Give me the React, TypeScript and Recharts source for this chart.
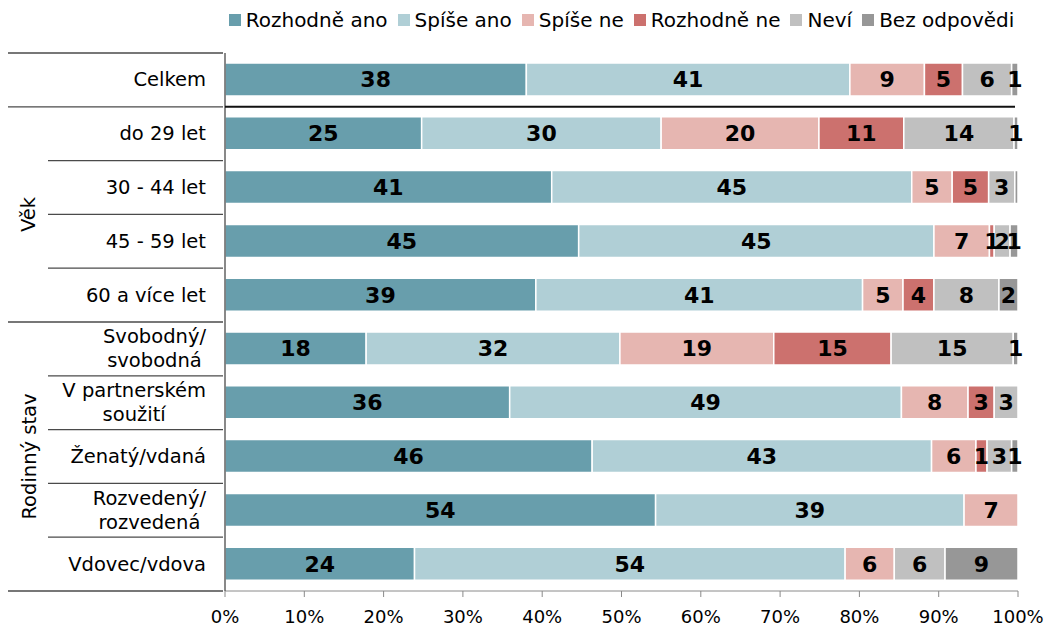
import React from 'react';
import { BarChart, Bar, XAxis, YAxis, Legend, LabelList } from 'recharts';

const categories = [
  'Celkem',
  'do 29 let',
  '30 - 44 let',
  '45 - 59 let',
  '60 a více let',
  'Svobodný/\nsvobodná',
  'V partnerském\nsoužití',
  'Ženatý/vdaná',
  'Rozvedený/\nrozvedená',
  'Vdovec/vdova',
];

const rozhodneAno = [38.0, 24.8, 41.2, 44.6, 39.2, 17.8, 35.9, 46.3, 54.3, 23.9];
const spiseAno = [40.8, 30.2, 45.4, 44.8, 41.2, 32.0, 49.4, 42.8, 38.9, 54.3];
const spiseNe = [9.4, 19.9, 5.1, 7.0, 5.1, 19.4, 8.4, 5.6, 6.8, 6.2];
const rozhodneNe = [4.8, 10.7, 4.6, 0.6, 3.9, 14.8, 3.3, 1.4, 0, 0];
const nevi = [6.2, 13.9, 3.3, 2.0, 8.2, 15.4, 3.0, 3.1, 0, 6.4];
const bezOdpovedi = [0.8, 0.5, 0.4, 1.0, 2.4, 0.6, 0, 0.8, 0, 9.2];

const seriesKeys = ['rozhodneAno', 'spiseAno', 'spiseNe', 'rozhodneNe', 'nevi', 'bezOdpovedi'];
const seriesNames = ['Rozhodně ano', 'Spíše ano', 'Spíše ne', 'Rozhodně ne', 'Neví', 'Bez odpovědi'];
const seriesColors = ['#689EAC', '#B0CFD6', '#E6B6B1', '#CC716E', '#C0C0C0', '#979797'];
const seriesValues = [rozhodneAno, spiseAno, spiseNe, rozhodneNe, nevi, bezOdpovedi];

const xTicks = [0, 10, 20, 30, 40, 50, 60, 70, 80, 90, 100];

const groups = [
  { label: '', start: 0, end: 0 },
  { label: 'Věk', start: 1, end: 4 },
  { label: 'Rodinný stav', start: 5, end: 9 },
];

const data = categories.map((name, i) => {
  const row: Record<string, any> = { name };
  seriesKeys.forEach((k, s) => {
    row[k] = seriesValues[s][i];
  });
  return row;
});

const W = 1046;
const H = 627;
const M = { top: 53, right: 28, bottom: 6, left: 0 };
const Y_W = 225;
const X_H = 30;
const PLOT_H = H - M.top - M.bottom - X_H;
const BAND = PLOT_H / categories.length;
const PLOT_RIGHT = W - M.right;
const FONT = '"DejaVu Sans", Verdana, sans-serif';
const CAT_FONT_SIZE = 19.5;

function measure(s: string): number {
  try {
    const ctx = document.createElement('canvas').getContext('2d');
    if (ctx) {
      ctx.font = `${CAT_FONT_SIZE}px "DejaVu Sans"`;
      return ctx.measureText(s).width;
    }
  } catch (e) {}
  return s.length * CAT_FONT_SIZE * 0.6;
}

function CatTick(props: any) {
  const { y, payload } = props;
  const label = String(payload.value);
  const i = categories.indexOf(label);
  const g = groups.find((gr) => i >= gr.start && i <= gr.end) || groups[0];
  const lines = label.split('\n');
  const right = Y_W - 19;
  const els: any[] = [];
  if (lines.length === 1) {
    els.push(
      <text key="t" x={right} y={y} textAnchor="end" dominantBaseline="central" fontSize={CAT_FONT_SIZE} fill="#000">
        {label}
      </text>
    );
  } else {
    const maxW = Math.max(...lines.map(measure));
    const cx = right - maxW / 2;
    lines.forEach((l, k) => {
      els.push(
        <text
          key={'t' + k}
          x={cx}
          y={y + (k - (lines.length - 1) / 2) * 24}
          textAnchor="middle"
          dominantBaseline="central"
          fontSize={CAT_FONT_SIZE}
          fill="#000"
        >
          {l}
        </text>
      );
    });
  }
  const bottom = y + BAND / 2;
  const start = i === g.end ? 8 : 48;
  els.push(<line key="lb" x1={start} x2={Y_W - 2} y1={bottom} y2={bottom} stroke="#4a4a4a" strokeWidth={1.3} />);
  if (i === 0) {
    const top = y - BAND / 2;
    els.push(<line key="lt" x1={8} x2={Y_W - 2} y1={top} y2={top} stroke="#4a4a4a" strokeWidth={1.3} />);
    els.push(<line key="lc" x1={Y_W} x2={PLOT_RIGHT - 3} y1={bottom} y2={bottom} stroke="#111" strokeWidth={2} />);
  }
  if (i === g.start && g.label) {
    const gy = y + (BAND * (g.end - g.start)) / 2;
    els.push(
      <text
        key="g"
        x={29}
        y={gy}
        textAnchor="middle"
        dominantBaseline="central"
        fontSize={CAT_FONT_SIZE}
        fill="#000"
        transform={`rotate(-90, 29, ${gy})`}
      >
        {g.label}
      </text>
    );
  }
  return <g>{els}</g>;
}

const fmt = (v: any) => {
  const r = Math.round(Number(v));
  return r >= 1 ? String(r) : '';
};

function LegendContent() {
  return (
    <div style={{ display: 'flex', justifyContent: 'center', fontSize: 20, color: '#000', lineHeight: '24px', fontFamily: FONT }}>
      {seriesNames.map((name, k) => (
        <span key={k} style={{ display: 'inline-flex', alignItems: 'center', marginLeft: k === 0 ? 0 : 10 }}>
          <span style={{ display: 'inline-block', width: 12, height: 12, background: seriesColors[k], marginRight: 5 }} />
          <span>{name}</span>
        </span>
      ))}
    </div>
  );
}

export default function App() {
  return (
    <div style={{ position: 'absolute', left: 0, top: 0, width: W, height: H, fontFamily: FONT, background: '#fff' }}>
      <BarChart width={W} height={H} data={data} layout="vertical" margin={M} barSize={33}>
        <XAxis
          type="number"
          domain={[0, 100]}
          ticks={xTicks}
          tickFormatter={(v: number) => `${v}%`}
          height={X_H}
          axisLine={{ stroke: '#8a8a8a' }}
          tickLine={{ stroke: '#8a8a8a' }}
          tickSize={6}
          tickMargin={13}
          tick={{ fontSize: 18, fill: '#000' }}
          interval={0}
        />
        <YAxis
          type="category"
          dataKey="name"
          width={Y_W}
          axisLine={{ stroke: '#4a4a4a', strokeWidth: 1.3 }}
          tickLine={false}
          tick={<CatTick />}
          interval={0}
        />
        <Legend
          layout="horizontal"
          verticalAlign="middle"
          align="center"
          content={<LegendContent />}
          wrapperStyle={{ top: 8, left: Y_W, width: PLOT_RIGHT - Y_W }}
        />
        {seriesKeys.map((k, s) => (
          <Bar
            key={k}
            dataKey={k}
            name={seriesNames[s]}
            stackId="a"
            fill={seriesColors[s]}
            stroke="#ffffff"
            strokeWidth={1.5}
            isAnimationActive={false}
          >
            <LabelList dataKey={k} position="center" formatter={fmt} fill="#000" fontSize={22} fontWeight="bold" />
          </Bar>
        ))}
      </BarChart>
    </div>
  );
}
